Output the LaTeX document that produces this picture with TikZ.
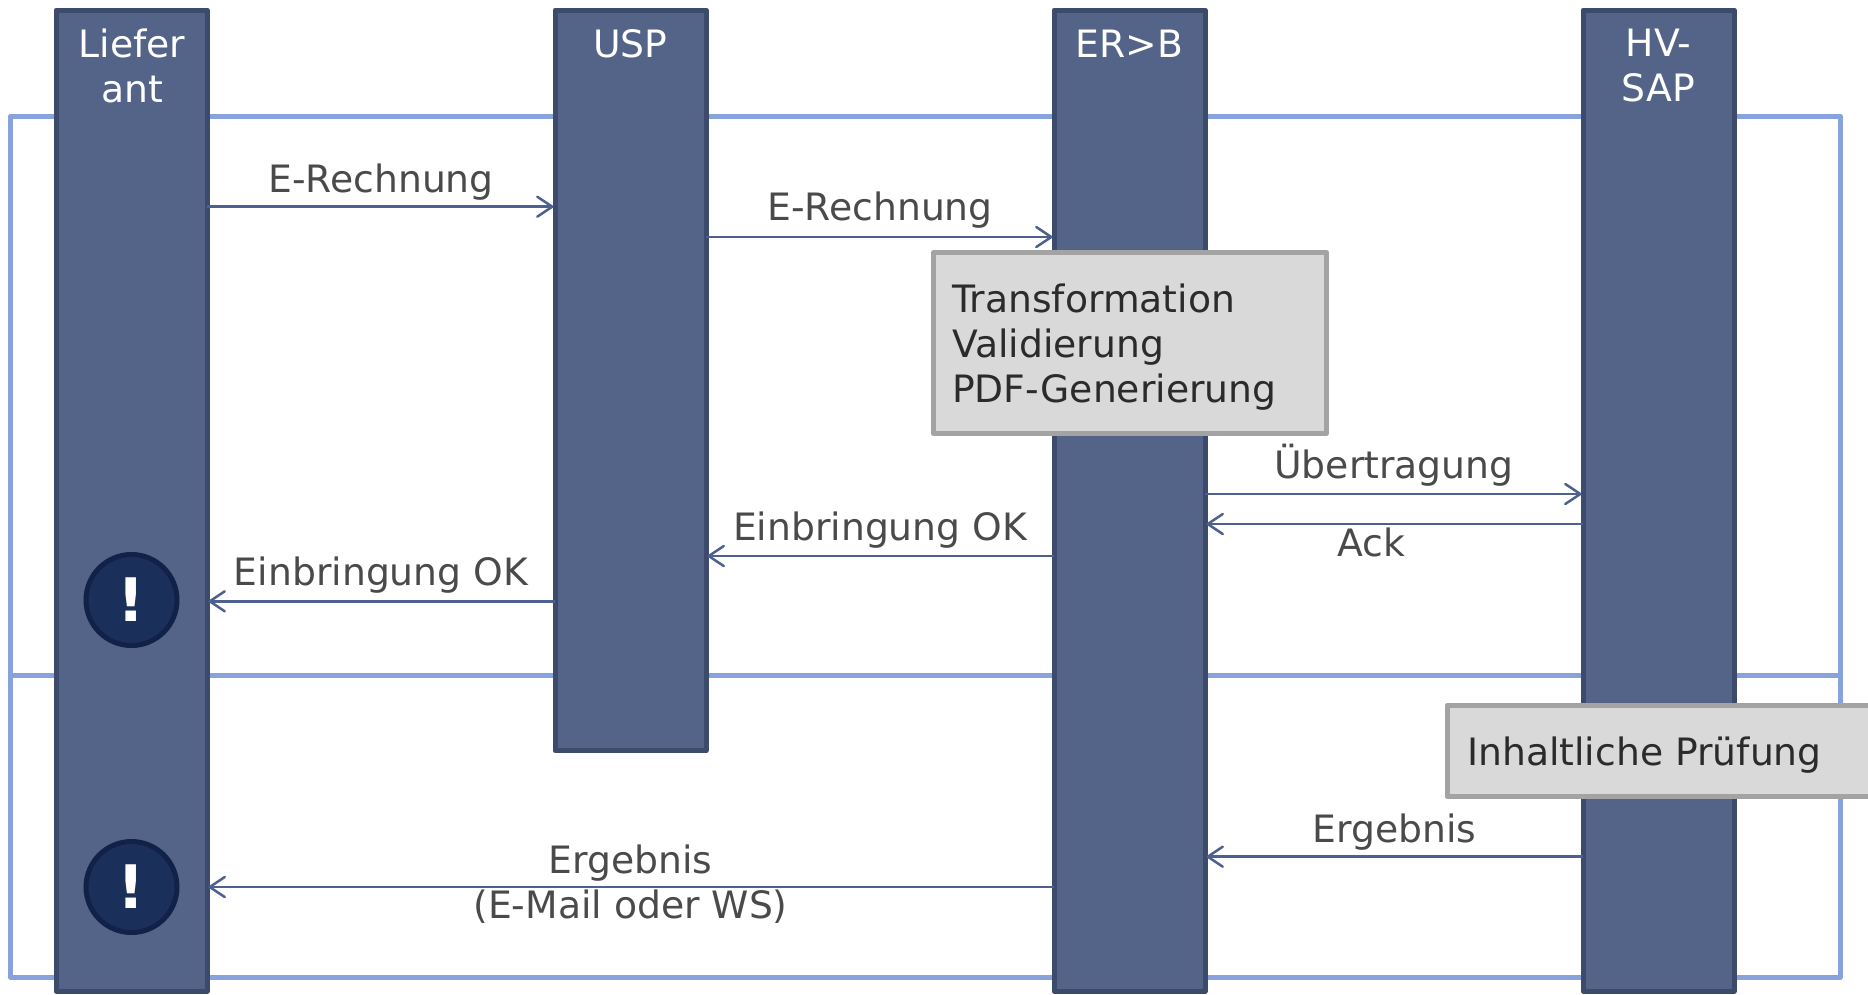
\documentclass[tikz,border=0pt]{standalone}
\usepackage{fontspec}
\setmainfont{DejaVu Sans}
\usetikzlibrary{arrows.meta}
\definecolor{lane}{HTML}{536488}
\definecolor{laneedge}{HTML}{3C4A6C}
\definecolor{framec}{HTML}{87A2DC}
\definecolor{graybox}{HTML}{D9D9D9}
\definecolor{grayedge}{HTML}{A3A3A3}
\definecolor{arrowc}{HTML}{4C618F}
\definecolor{labelc}{HTML}{4A4A4A}
\definecolor{boxtext}{HTML}{2B2B2B}
\definecolor{alertfill}{HTML}{1B2F5B}
\definecolor{alertedge}{HTML}{122148}
\tikzset{
  x=1pt,y=-1pt,
  lanebox/.style={rectangle,draw=laneedge,fill=lane,line width=5pt,inner sep=0pt,outer sep=0pt,line join=round},
  frameline/.style={draw=framec,line width=5pt,line join=round},
  msg/.style={draw=arrowc,line width=2.5pt,shorten >=1.5pt,-{Straight Barb[length=15pt,width=20pt,line width=2.5pt,round]}},
  msglabel/.style={text=labelc,font=\fontsize{37.7}{45}\selectfont,inner sep=0pt,align=center},
  headlabel/.style={text=white,font=\fontsize{37.7}{45}\selectfont,inner sep=0pt,align=center},
  procbox/.style={rectangle,draw=grayedge,fill=graybox,line width=5pt,inner sep=0pt,outer sep=0pt,line join=round},
  proctext/.style={text=boxtext,font=\fontsize{37.7}{45}\selectfont,inner sep=0pt,align=left},
  alert/.style={circle,draw=alertedge,fill=alertfill,line width=5pt,minimum size=91pt,inner sep=0pt,outer sep=0pt},
  alertmark/.style={text=white,font=\fontsize{60}{60}\bfseries\selectfont,inner sep=0pt},
}
\begin{document}
\begin{tikzpicture}
\useasboundingbox (0,0) rectangle (1868,994);
% frames
\draw[frameline] (10.7,116) rectangle (1840,977.5);
\draw[frameline] (10.7,675.3) -- (1840,675.3);
% lanes
\node[lanebox,minimum width=151pt,minimum height=981pt] (L) at (131.5,500.5) {};
\node[lanebox,minimum width=151pt,minimum height=740.5pt] (U) at (630.5,380.25) {};
\node[lanebox,minimum width=151pt,minimum height=981pt] (E) at (1129.5,500.5) {};
\node[lanebox,minimum width=151pt,minimum height=981pt] (H) at (1658.5,500.5) {};
\node[headlabel] at (132,66) {Liefer\\ant};
\node[headlabel] at (630.5,43.5) {USP};
\node[headlabel] at (1129.5,43.5) {ER>B};
\node[headlabel] at (1658.5,66) {HV-\\SAP};
% grey boxes
\node[procbox,minimum width=393pt,minimum height=181pt] (T) at (1130,343) {};
\node[proctext,anchor=west] at (952,347.5) {Transformation\\Validierung\\PDF-Generierung};
\node[procbox,anchor=west,minimum width=430pt,minimum height=91pt] (I) at (1447,751) {};
\node[proctext,anchor=west] at (1467,755) {Inhaltliche Prüfung};
% alerts
\node[alert] (A1) at (131.5,600) {};
\node[alert] (A2) at (131.5,887) {};
\node[alertmark] at (A1) {!};
\node[alertmark] at (A2) {!};
% messages
\coordinate (l1) at (L.east |- 0,206.7);
\coordinate (u1) at (U.west |- 0,206.7);
\draw[msg] (l1) -- (u1);
\coordinate (u2) at (U.east |- 0,237);
\coordinate (e2) at (E.west |- 0,237);
\draw[msg] (u2) -- (e2);
\coordinate (e3) at (E.east |- 0,494);
\coordinate (h3) at (H.west |- 0,494);
\draw[msg] (e3) -- (h3);
\coordinate (h4) at (H.west |- 0,524);
\coordinate (e4) at (E.east |- 0,524);
\draw[msg] (h4) -- (e4);
\coordinate (e5) at (E.west |- 0,556);
\coordinate (u5) at (U.east |- 0,556);
\draw[msg] (e5) -- (u5);
\coordinate (u6) at (U.west |- 0,601.3);
\coordinate (l6) at (L.east |- 0,601.3);
\draw[msg] (u6) -- (l6);
\coordinate (h7) at (H.west |- 0,856.7);
\coordinate (e7) at (E.east |- 0,856.7);
\draw[msg] (h7) -- (e7);
\coordinate (e8) at (E.west |- 0,887);
\coordinate (l8) at (L.east |- 0,887);
\draw[msg] (e8) -- (l8);
% labels
\node[msglabel] at (381,182.5) {E-Rechnung};
\node[msglabel] at (880,210.5) {E-Rechnung};
\node[msglabel] at (1394,465) {Übertragung};
\node[msglabel] at (1371.5,542) {Ack};
\node[msglabel] at (880,530.5) {Einbringung OK};
\node[msglabel] at (381,575.5) {Einbringung OK};
\node[msglabel] at (1394.5,832) {Ergebnis};
\node[msglabel] at (630.5,884.5) {Ergebnis\\(E-Mail oder WS)};
\end{tikzpicture}
\end{document}
